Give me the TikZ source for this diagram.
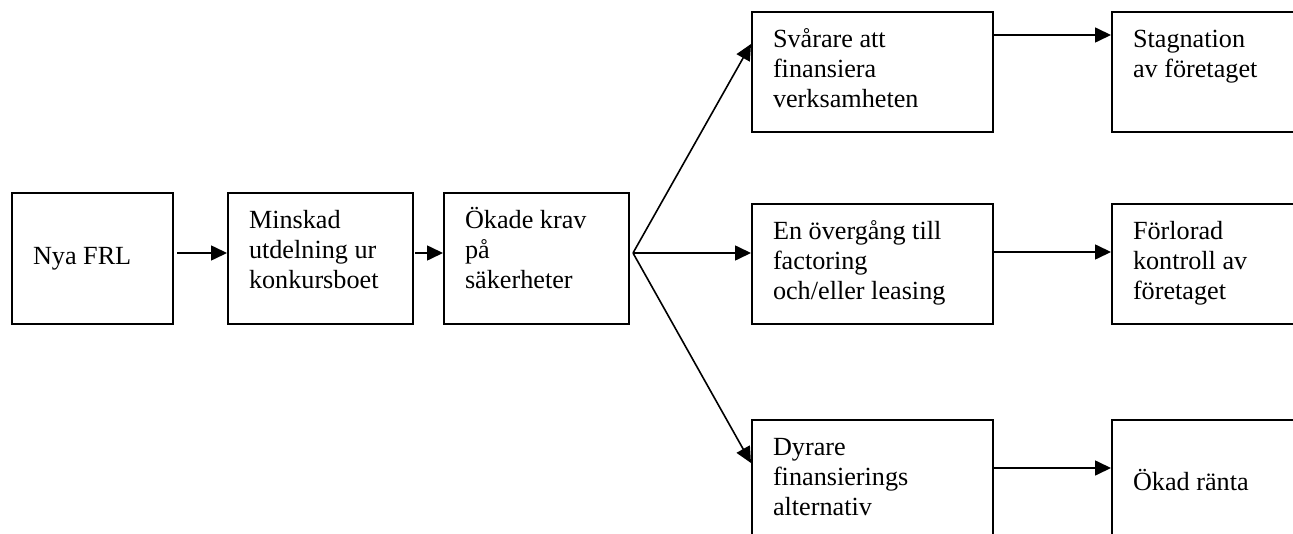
\documentclass[tikz,border=0pt]{standalone}
\usepackage{fontspec}
\setmainfont{Liberation Serif}
\usetikzlibrary{arrows.meta}

% text block inside a box: first baseline at a fixed depth below the top
\newcommand{\boxtext}[3]{\parbox[c][#2][t]{#1}{\raggedright\rule{0pt}{17.75pt}#3}}
\newcommand{\midtext}[3]{\parbox[c][#2][c]{#1}{\raggedright #3}}

\tikzset{
  box/.style={draw, line width=1pt, anchor=north west, inner xsep=10.5pt, inner ysep=0pt,
    font=\fontsize{13.1pt}{15pt}\selectfont},
  arrow/.style={line width=0.8pt, -{Triangle[length=8pt,width=7.5pt]}}
}

\begin{document}
\begin{tikzpicture}[x=0.5pt, y=-0.5pt]
  \useasboundingbox (0,0) rectangle (1293,534);
  \clip (0,0) rectangle (1293,534);

  % Chain on the left
  \node[box] (nya) at (11,192) {\midtext{59.5pt}{65.5pt}{Nya FRL}};
  \node[box] (minskad) at (227,192) {\boxtext{71.5pt}{65.5pt}{Minskad\\utdelning ur\\konkursboet}};
  \node[box] (okade) at (443,192) {\boxtext{71.5pt}{65.5pt}{Ökade krav\\på\\säkerheter}};

  % Middle column
  \node[box] (svarare) at (751,11) {\boxtext{99.5pt}{60pt}{Svårare att\\finansiera\\verksamheten}};
  \node[box] (overgang) at (751,203) {\boxtext{99.5pt}{60pt}{En övergång till\\factoring\\och/eller leasing}};
  \node[box] (dyrare) at (751,419) {\boxtext{99.5pt}{60pt}{Dyrare\\finansierings\\alternativ}};

  % Right column
  \node[box] (stagnation) at (1111,11) {\boxtext{99.5pt}{60pt}{Stagnation\\av företaget}};
  \node[box] (forlorad) at (1111,203) {\boxtext{99.5pt}{60pt}{Förlorad\\kontroll av\\företaget}};
  \node[box] (ranta) at (1111,419) {\midtext{99.5pt}{60pt}{Ökad ränta}};

  % Arrows along the chain
  \draw[arrow, shorten <=1.5pt] ([yshift=2.75pt]nya.east) -- ([yshift=2.75pt]minskad.west);
  \draw[arrow, shorten <=0.5pt] ([yshift=2.75pt]minskad.east) -- ([yshift=2.75pt]okade.west);

  % Fan out to the three consequences
  \coordinate (fan) at ([xshift=1.5pt, yshift=2.75pt]okade.east);
  \draw[arrow] (fan) -- ([yshift=14pt]svarare.west);
  \draw[arrow] (fan) -- (fan -| overgang.west);
  \draw[arrow] (fan) -- ([yshift=8.5pt]dyrare.west);

  % Last step
  \foreach \a/\b/\s in {svarare/stagnation/18.5pt, overgang/forlorad/6pt, dyrare/ranta/6pt} {
    \draw[arrow] ([yshift=\s]\a.east) -- ([yshift=\s]\b.west);
  }
\end{tikzpicture}
\end{document}
